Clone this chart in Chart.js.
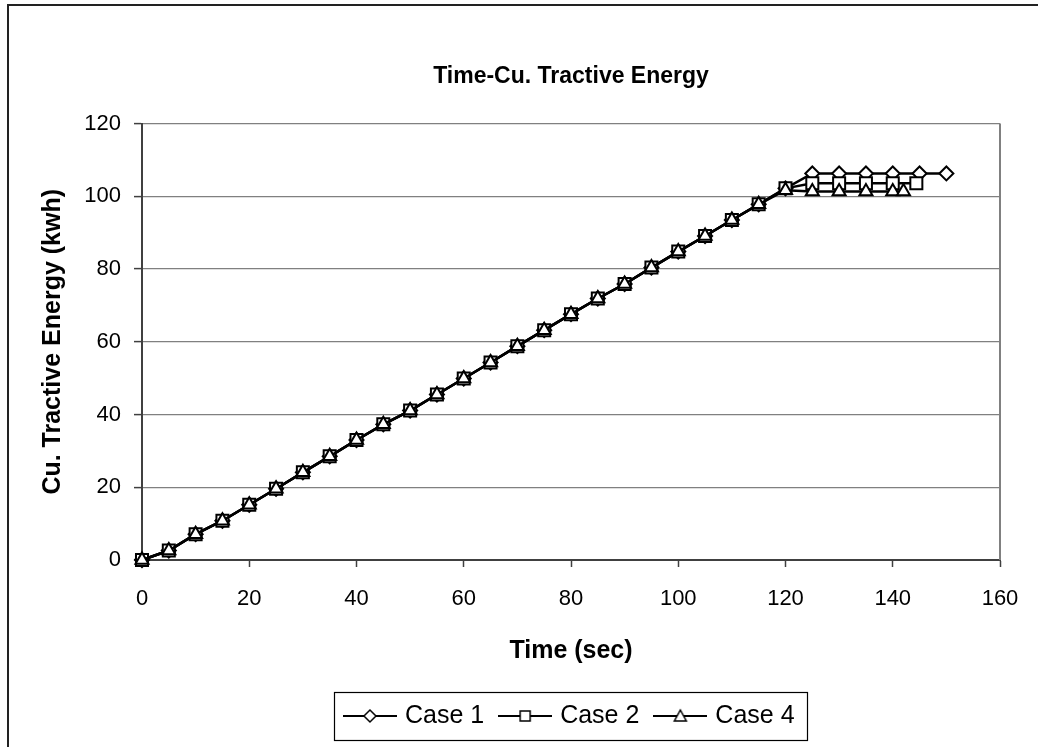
<!DOCTYPE html>
<html>
<head>
<meta charset="utf-8">
<title>Time-Cu. Tractive Energy</title>
<script src="https://cdn.jsdelivr.net/npm/chart.js@4.4.1/dist/chart.umd.min.js"></script>
<style>
  body { margin: 0; background: #fff; }
  .chart-box { width: 1038px; height: 747px; }
</style>
</head>
<body>
<div class="chart-box"><canvas id="energyChart"></canvas></div>
<script>
// cumulative tractive energy (kwh) against time (sec) for each run
const case1Time = [0, 5, 10, 15, 20, 25, 30, 35, 40, 45, 50, 55, 60, 65, 70, 75, 80, 85, 90, 95, 100, 105, 110, 115, 120, 125, 130, 135, 140, 145, 150];
const case1Energy = [0, 2.6, 7.1, 10.8, 15.2, 19.6, 24.1, 28.5, 33.0, 37.3, 41.1, 45.5, 49.9, 54.3, 58.8, 63.2, 67.6, 71.9, 75.9, 80.4, 84.8, 89.1, 93.5, 97.8, 102.2, 106.3, 106.3, 106.3, 106.3, 106.3, 106.3];

const case2Time = [0, 5, 10, 15, 20, 25, 30, 35, 40, 45, 50, 55, 60, 65, 70, 75, 80, 85, 90, 95, 100, 105, 110, 115, 120, 125, 130, 135, 140, 144.4];
const case2Energy = [0, 2.6, 7.1, 10.8, 15.2, 19.6, 24.1, 28.5, 33.0, 37.3, 41.1, 45.5, 49.9, 54.3, 58.8, 63.2, 67.6, 71.9, 75.9, 80.4, 84.8, 89.1, 93.5, 97.8, 102.2, 103.6, 103.6, 103.6, 103.6, 103.6];

const case4Time = [0, 5, 10, 15, 20, 25, 30, 35, 40, 45, 50, 55, 60, 65, 70, 75, 80, 85, 90, 95, 100, 105, 110, 115, 120, 125, 130, 135, 140, 142];
const case4Energy = [0, 2.6, 7.1, 10.8, 15.2, 19.6, 24.1, 28.5, 33.0, 37.3, 41.1, 45.5, 49.9, 54.3, 58.8, 63.2, 67.6, 71.9, 75.9, 80.4, 84.8, 89.1, 93.5, 97.8, 101.7, 101.3, 101.3, 101.3, 101.3, 101.3];

const caseNames = ['Case 1', 'Case 2', 'Case 4'];
const markers = ['rectRot', 'rect', 'triangle'];

const FONT = "'Liberation Sans', Arial, sans-serif";

function toPoints(xs, ys) {
  return xs.map((x, i) => ({ x: x, y: ys[i] }));
}

// little "line through marker" picture for the legend
function legendIcon(style) {
  const c = document.createElement('canvas');
  c.width = 54; c.height = 18;
  const g = c.getContext('2d');
  g.strokeStyle = '#000';
  g.lineWidth = 2;
  g.beginPath(); g.moveTo(0, 9); g.lineTo(54, 9); g.stroke();
  g.fillStyle = '#fff';
  g.lineWidth = 1.5;
  g.beginPath();
  if (style === 'rectRot') {
    g.moveTo(27, 3); g.lineTo(33, 9); g.lineTo(27, 15); g.lineTo(21, 9); g.closePath();
  } else if (style === 'rect') {
    g.rect(22, 4, 10, 10);
  } else {
    g.moveTo(27, 3); g.lineTo(33, 14); g.lineTo(21, 14); g.closePath();
  }
  g.fill(); g.stroke();
  return c;
}
const legendIcons = markers.map(legendIcon);

const series = [
  { label: caseNames[0], data: toPoints(case1Time, case1Energy), pointStyle: markers[0], pointRadius: 7, order: 3 },
  { label: caseNames[1], data: toPoints(case2Time, case2Energy), pointStyle: markers[1], pointRadius: 8.5, order: 2 },
  { label: caseNames[2], data: toPoints(case4Time, case4Energy), pointStyle: markers[2], pointRadius: 7.5, order: 1 }
].map(ds => Object.assign(ds, {
  borderColor: '#000',
  borderWidth: 2.5,
  backgroundColor: '#fff',
  pointBackgroundColor: '#fff',
  pointBorderColor: '#000',
  pointBorderWidth: 2,
  pointHoverRadius: ds.pointRadius,
  tension: 0,
  fill: false,
  clip: false
}));

// outer frame, plot box edge, legend box; title and legend centred on the plot
const framePlugin = {
  id: 'frame',
  afterLayout(chart) {
    const a = chart.chartArea;
    [chart.legend, chart.titleBlock].forEach(box => {
      const dx = (a.left + a.right) / 2 - (box.left + box.right) / 2;
      box.left += dx;
      box.right += dx;
    });
  },
  beforeDraw(chart) {
    const ctx = chart.ctx;
    ctx.save();
    ctx.strokeStyle = '#222';
    ctx.lineWidth = 2;
    ctx.strokeRect(8, 5, 1200, 900);
    ctx.restore();
  },
  afterDraw(chart) {
    const ctx = chart.ctx, a = chart.chartArea, lg = chart.legend;
    ctx.save();
    ctx.strokeStyle = '#808080';
    ctx.lineWidth = 2;
    ctx.beginPath();
    ctx.moveTo(a.right, a.top);
    ctx.lineTo(a.right, a.bottom);
    ctx.stroke();

    const pad = lg.options.labels.padding;
    const rowW = lg.lineWidths[0] - pad;
    const cx = (lg.left + lg.right) / 2;
    const cy = lg.top + pad + 25 / 2;
    ctx.strokeStyle = '#000';
    ctx.lineWidth = 1.2;
    ctx.strokeRect(Math.round(cx - rowW / 2 - 13) + 0.5, Math.round(cy - 24) + 0.5, Math.round(rowW + 26), 48);
    ctx.restore();
  }
};

new Chart(document.getElementById('energyChart'), {
  type: 'line',
  data: { datasets: series },
  options: {
    responsive: true,
    maintainAspectRatio: false,
    animation: false,
    layout: { padding: { left: 0, right: 38, top: 0, bottom: 8.5 } },
    plugins: {
      title: {
        display: true,
        text: 'Time-Cu. Tractive Energy',
        color: '#000',
        font: { family: FONT, size: 23, weight: 'bold' },
        padding: { top: 63, bottom: 33 }
      },
      legend: {
        position: 'bottom',
        labels: {
          usePointStyle: true,
          pointStyleWidth: 45,
          padding: 18.5,
          color: '#000',
          font: { family: FONT, size: 25 },
          generateLabels: chart => chart.data.datasets.map((ds, i) => ({
            text: ds.label,
            pointStyle: legendIcons[i],
            datasetIndex: i,
            hidden: false,
            lineWidth: 0,
            strokeStyle: 'rgba(0,0,0,0)',
            fillStyle: 'rgba(0,0,0,0)',
            fontColor: '#000'
          }))
        }
      },
      tooltip: { enabled: false }
    },
    scales: {
      x: {
        type: 'linear',
        min: 0,
        max: 160,
        ticks: { stepSize: 20, color: '#000', padding: 19, font: { family: FONT, size: 22 } },
        grid: { drawOnChartArea: false, drawTicks: true, tickLength: 7, tickColor: '#404040', tickWidth: 1.5 },
        border: { color: '#404040', width: 2 },
        title: {
          display: true,
          text: 'Time (sec)',
          color: '#000',
          font: { family: FONT, size: 25, weight: 'bold' },
          padding: { top: 0, bottom: 19 }
        },
        afterFit(scale) {
          scale.height = 125;
          scale.paddingRight = 20;
        }
      },
      y: {
        min: 0,
        max: 120,
        ticks: { stepSize: 20, color: '#000', padding: 13, font: { family: FONT, size: 22 } },
        grid: { color: '#808080', lineWidth: 1.2, tickLength: 8, tickColor: '#404040', tickWidth: 1.5 },
        border: { color: '#404040', width: 2 },
        title: {
          display: true,
          text: 'Cu. Tractive Energy (kwh)',
          color: '#000',
          font: { family: FONT, size: 25, weight: 'bold' },
          padding: { top: 38, bottom: 0 }
        },
        afterFit(scale) { scale.width = 142; }
      }
    }
  },
  plugins: [framePlugin]
});
</script>
</body>
</html>
